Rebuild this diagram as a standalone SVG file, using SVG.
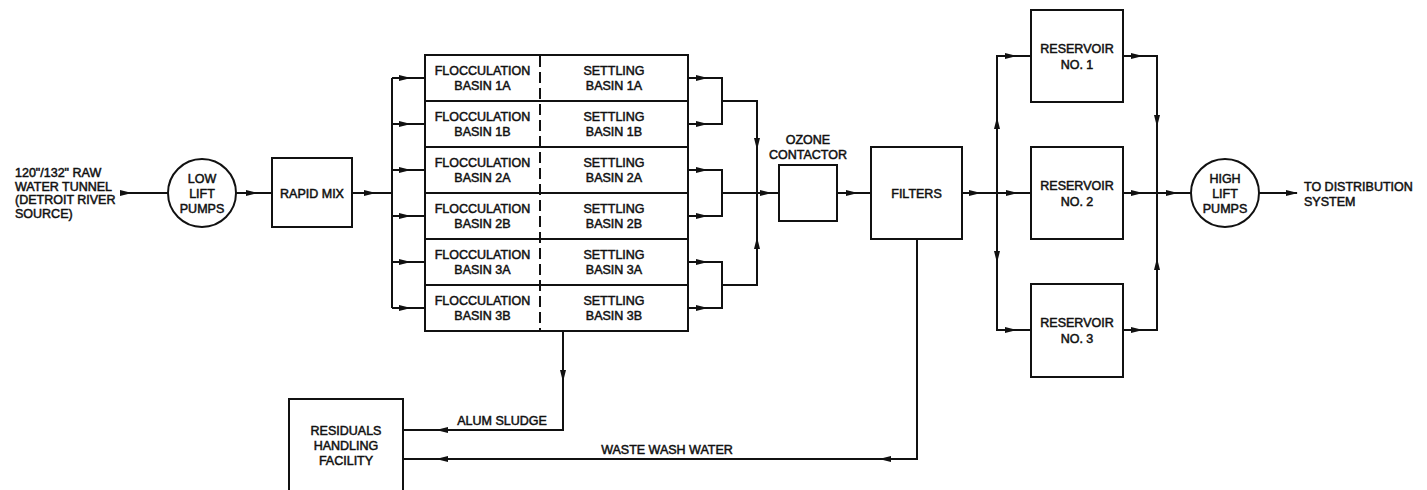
<svg xmlns="http://www.w3.org/2000/svg" xmlns:xlink="http://www.w3.org/1999/xlink" width="1427" height="490" viewBox="0 0 1427 490">
<style>
.box{fill:#fff;stroke:#111;stroke-width:2}
.ln{fill:none;stroke:#111;stroke-width:2}
.dash{fill:none;stroke:#111;stroke-width:2;stroke-dasharray:11 5}
text{font-family:"Liberation Sans",Arial,Helvetica,sans-serif;font-size:12.5px;fill:#111;stroke:#111;stroke-width:0.5}
.c{text-anchor:middle}
</style>
<defs>
<path id="ah" d="M5,0 L-7,-3 L-7,3 Z" fill="#111"/>
</defs>
<rect width="1427" height="490" fill="#fff"/>

<g id="connectors">
<path class="ln" d="M122,193 H169"/>
<path class="ln" d="M236,193 H272"/>
<path class="ln" d="M352,193 H392"/>
<path class="ln" d="M392,78 V308"/>
<path class="ln" d="M392,78 H425 M392,124 H425 M392,170 H425 M392,216 H425 M392,262 H425 M392,308 H425"/>
<path class="ln" d="M688,78 H722 V124 H688 M688,170 H722 V216 H688 M688,262 H722 V308 H688"/>
<path class="ln" d="M722,101 H757 V285 H722 M722,193 H779"/>
<path class="ln" d="M837,193 H871"/>
<path class="ln" d="M962,193 H1031"/>
<path class="ln" d="M1031,56 H997 V330 H1031"/>
<path class="ln" d="M1123,56 H1157 V330 H1123 M1123,193 H1191"/>
<path class="ln" d="M1259,193 H1297"/>
<path class="ln" d="M563,331 V430 H403"/>
<path class="ln" d="M917,239 V459 H403"/>
<use xlink:href="#ah" transform="translate(127,193)"/>
<use xlink:href="#ah" transform="translate(253,193)"/>
<use xlink:href="#ah" transform="translate(371,193)"/>
<use xlink:href="#ah" transform="translate(406,78)"/>
<use xlink:href="#ah" transform="translate(406,124)"/>
<use xlink:href="#ah" transform="translate(406,170)"/>
<use xlink:href="#ah" transform="translate(406,216)"/>
<use xlink:href="#ah" transform="translate(406,262)"/>
<use xlink:href="#ah" transform="translate(406,308)"/>
<use xlink:href="#ah" transform="translate(703,78)"/>
<use xlink:href="#ah" transform="translate(703,124)"/>
<use xlink:href="#ah" transform="translate(703,170)"/>
<use xlink:href="#ah" transform="translate(703,216)"/>
<use xlink:href="#ah" transform="translate(703,262)"/>
<use xlink:href="#ah" transform="translate(703,308)"/>
<use xlink:href="#ah" transform="translate(757,145) rotate(90)"/>
<use xlink:href="#ah" transform="translate(757,242) rotate(-90)"/>
<use xlink:href="#ah" transform="translate(767,193)"/>
<use xlink:href="#ah" transform="translate(853,193)"/>
<use xlink:href="#ah" transform="translate(976,193)"/>
<use xlink:href="#ah" transform="translate(1013,193)"/>
<use xlink:href="#ah" transform="translate(997,122) rotate(-90)"/>
<use xlink:href="#ah" transform="translate(997,258) rotate(90)"/>
<use xlink:href="#ah" transform="translate(1012,56)"/>
<use xlink:href="#ah" transform="translate(1012,330)"/>
<use xlink:href="#ah" transform="translate(1138,56)"/>
<use xlink:href="#ah" transform="translate(1138,193)"/>
<use xlink:href="#ah" transform="translate(1138,330)"/>
<use xlink:href="#ah" transform="translate(1157,122) rotate(90)"/>
<use xlink:href="#ah" transform="translate(1157,263) rotate(-90)"/>
<use xlink:href="#ah" transform="translate(1173,193)"/>
<use xlink:href="#ah" transform="translate(1293,193)"/>
<use xlink:href="#ah" transform="translate(563,377) rotate(90)"/>
<use xlink:href="#ah" transform="translate(441,430) rotate(180)"/>
<use xlink:href="#ah" transform="translate(441,459) rotate(180)"/>
<use xlink:href="#ah" transform="translate(884,459) rotate(180)"/>
<text x="502" y="424.5" class="c">ALUM SLUDGE</text>
<text x="667" y="454" class="c">WASTE WASH WATER</text>
</g>

<g id="source">
<text x="15" y="177">120"/132" RAW</text>
<text x="15" y="190.5">WATER TUNNEL</text>
<text x="15" y="204">(DETROIT RIVER</text>
<text x="15" y="217.5">SOURCE)</text>
</g>

<g id="low-lift-pumps">
<circle class="box" cx="202" cy="193" r="34"/>
<text x="202" y="182.5" class="c">LOW</text>
<text x="202" y="197.5" class="c">LIFT</text>
<text x="202" y="213" class="c">PUMPS</text>
</g>

<g id="rapid-mix">
<rect class="box" x="272" y="158" width="80" height="69"/>
<text x="312" y="197.5" class="c">RAPID MIX</text>
</g>

<g id="basins">
<rect class="box" x="425" y="55" width="263" height="276"/>
<path class="ln" d="M425,101 H688 M425,147 H688 M425,193 H688 M425,239 H688 M425,285 H688"/>
<path class="dash" d="M540,56 V331"/>
</g>
<g id="basin-1a"><text x="482.5" y="75" class="c">FLOCCULATION</text><text x="482.5" y="90" class="c">BASIN 1A</text><text x="614" y="75" class="c">SETTLING</text><text x="614" y="90" class="c">BASIN 1A</text></g>
<g id="basin-1b"><text x="482.5" y="121" class="c">FLOCCULATION</text><text x="482.5" y="136" class="c">BASIN 1B</text><text x="614" y="121" class="c">SETTLING</text><text x="614" y="136" class="c">BASIN 1B</text></g>
<g id="basin-2a"><text x="482.5" y="167" class="c">FLOCCULATION</text><text x="482.5" y="182" class="c">BASIN 2A</text><text x="614" y="167" class="c">SETTLING</text><text x="614" y="182" class="c">BASIN 2A</text></g>
<g id="basin-2b"><text x="482.5" y="213" class="c">FLOCCULATION</text><text x="482.5" y="228" class="c">BASIN 2B</text><text x="614" y="213" class="c">SETTLING</text><text x="614" y="228" class="c">BASIN 2B</text></g>
<g id="basin-3a"><text x="482.5" y="259" class="c">FLOCCULATION</text><text x="482.5" y="274" class="c">BASIN 3A</text><text x="614" y="259" class="c">SETTLING</text><text x="614" y="274" class="c">BASIN 3A</text></g>
<g id="basin-3b"><text x="482.5" y="305" class="c">FLOCCULATION</text><text x="482.5" y="320" class="c">BASIN 3B</text><text x="614" y="305" class="c">SETTLING</text><text x="614" y="320" class="c">BASIN 3B</text></g>

<g id="ozone-contactor">
<rect class="box" x="779" y="165" width="58" height="56"/>
<text x="808" y="143.5" class="c">OZONE</text>
<text x="808" y="158.5" class="c">CONTACTOR</text>
</g>

<g id="filters">
<rect class="box" x="871" y="147" width="91" height="92"/>
<text x="916.5" y="197.5" class="c">FILTERS</text>
</g>

<g id="reservoir-1">
<rect class="box" x="1031" y="10" width="92" height="92"/>
<text x="1077" y="52.5" class="c">RESERVOIR</text>
<text x="1077" y="68.5" class="c">NO. 1</text>
</g>
<g id="reservoir-2">
<rect class="box" x="1031" y="147" width="92" height="92"/>
<text x="1077" y="189.5" class="c">RESERVOIR</text>
<text x="1077" y="205.5" class="c">NO. 2</text>
</g>
<g id="reservoir-3">
<rect class="box" x="1031" y="284" width="92" height="93"/>
<text x="1077" y="326.5" class="c">RESERVOIR</text>
<text x="1077" y="342.5" class="c">NO. 3</text>
</g>

<g id="high-lift-pumps">
<circle class="box" cx="1225" cy="193" r="34"/>
<text x="1225" y="182.5" class="c">HIGH</text>
<text x="1225" y="197.5" class="c">LIFT</text>
<text x="1225" y="213" class="c">PUMPS</text>
</g>

<g id="distribution">
<text x="1304" y="190.5">TO DISTRIBUTION</text>
<text x="1304" y="205.5">SYSTEM</text>
</g>

<g id="residuals-handling-facility">
<rect class="box" x="289" y="399" width="114" height="100"/>
<text x="346" y="434.5" class="c">RESIDUALS</text>
<text x="346" y="449.5" class="c">HANDLING</text>
<text x="346" y="464.5" class="c">FACILITY</text>
</g>
</svg>
